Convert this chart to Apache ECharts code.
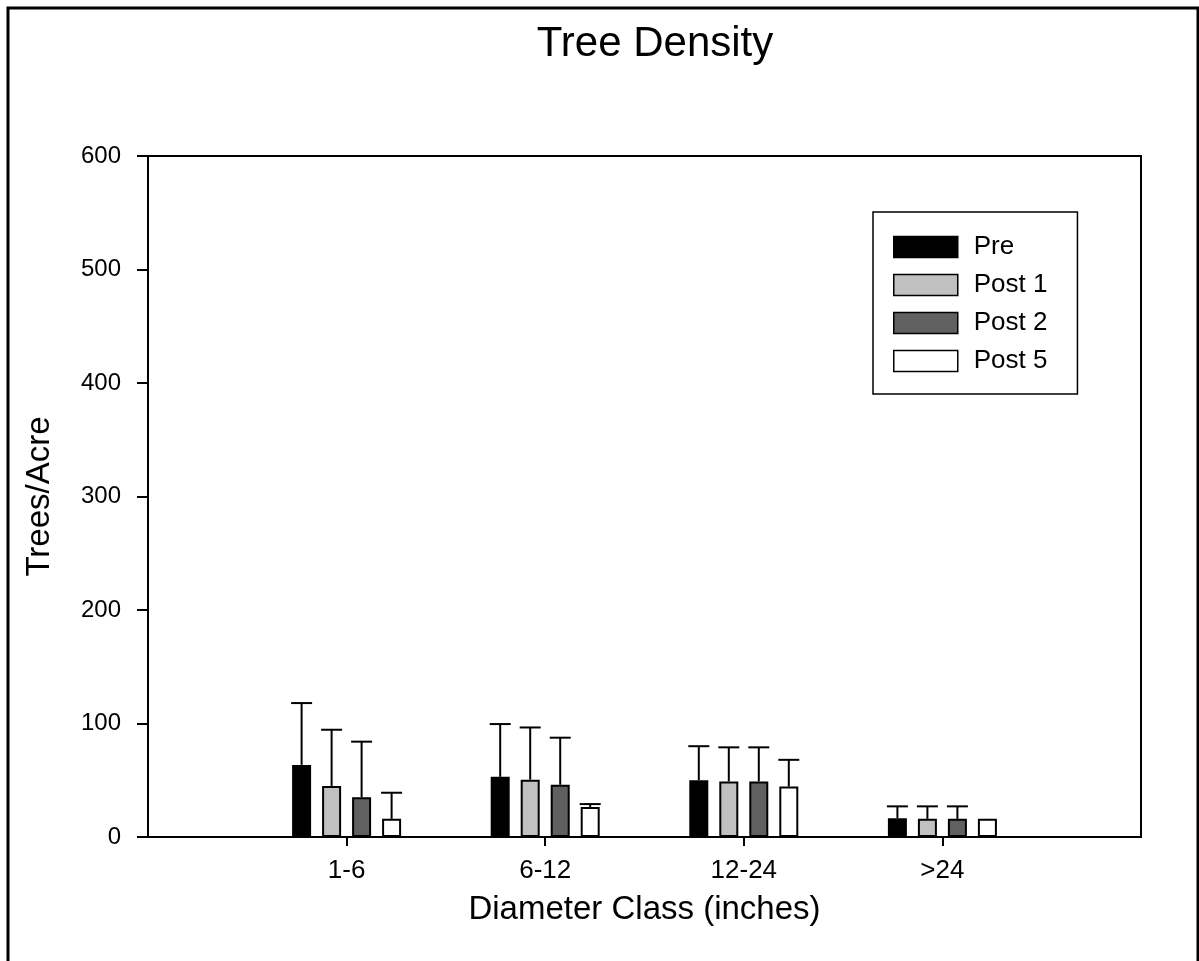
<!DOCTYPE html>
<html>
<head>
<meta charset="utf-8">
<script src="https://cdn.jsdelivr.net/npm/echarts@6/dist/echarts.min.js"></script>
<style>
html,body{margin:0;padding:0;background:#fff;}
#chart{width:1199px;height:961px;}
</style>
</head>
<body>
<div id="chart"></div>
<script>
// diameter classes
var classes = ['1-6', '6-12', '12-24', '>24'];
var seriesNames = ['Pre', 'Post 1', 'Post 2', 'Post 5'];
var seriesColors = ['#000000', '#c0c0c0', '#606060', '#ffffff'];

// mean trees/acre per class
var pre   = [63.5, 53, 50, 16.5];
var post1 = [45, 50.5, 49, 16];
var post2 = [35, 46, 49, 16];
var post5 = [16, 26.5, 44.5, 16];

// upper error (sd)
var preErr   = [54.5, 46.5, 30, 10.5];
var post1Err = [49.5, 46, 30, 11];
var post2Err = [49, 41.5, 30, 11];
var post5Err = [23, 2.5, 23.5, 0];

var yTicks = [0, 100, 200, 300, 400, 500, 600];

var means = [pre, post1, post2, post5];
var errs = [preErr, post1Err, post2Err, post5Err];

var barW = 19, barGapPx = 11;
var fontName = 'Liberation Sans, Arial, sans-serif';

// empty slot at both ends so the classes sit at 1..4 of 0..5
var cats = [''].concat(classes).concat(['']);

function pad(arr){
	return [null].concat(arr).concat([null]);
}

var series = [];
for (var i = 0; i < means.length; i++) {
	series.push({
		name: seriesNames[i],
		type: 'bar',
		barWidth: barW,
		barGap: (barGapPx / barW * 100) + '%',
		itemStyle: {color: seriesColors[i], borderColor: '#000', borderWidth: 2},
		data: pad(means[i]),
		z: 2
	});
}

// error bars, upward only
for (var i = 0; i < means.length; i++) {
	(function(si){
		var d = [];
		for (var k = 0; k < classes.length; k++) {
			d.push([k + 1, means[si][k], means[si][k] + errs[si][k]]);
		}
		series.push({
			type: 'custom',
			name: seriesNames[si],
			data: d,
			z: 1,
			silent: true,
			renderItem: function(params, api){
				var lo = api.value(1), hi = api.value(2);
				if (hi - lo <= 0) return null;
				var off = (si - 1.5) * (barW + barGapPx);
				var p0 = api.coord([api.value(0), lo]);
				var p1 = api.coord([api.value(0), hi]);
				var x = p0[0] + off;
				var st = {stroke: '#000', lineWidth: 2};
				return {
					type: 'group',
					children: [
						{type: 'line', shape: {x1: x, y1: p0[1], x2: x, y2: p1[1]}, style: st},
						{type: 'line', shape: {x1: x - 10.5, y1: p1[1], x2: x + 10.5, y2: p1[1]}, style: st}
					]
				};
			}
		});
	})(i);
}

var myChart = echarts.init(document.getElementById('chart'));
var option = {
	backgroundColor: '#fff',
	animation: false,
	title: {
		text: 'Tree Density',
		left: 650,
		textAlign: 'center',
		top: 18,
		textStyle: {fontFamily: fontName, fontSize: 42, fontWeight: 'normal', color: '#000'}
	},
	legend: {
		data: seriesNames,
		orient: 'vertical',
		left: 873,
		top: 212,
		padding: [22, 30, 20, 20],
		borderColor: '#000',
		borderWidth: 1.5,
		itemWidth: 64,
		itemHeight: 21,
		itemGap: 12,
		icon: 'rect',
		itemStyle: {borderColor: '#000', borderWidth: 1.5},
		textStyle: {fontFamily: fontName, fontSize: 26, color: '#000', lineHeight: 24, padding: [0, 0, 0, 11]},
		selectedMode: false
	},
	grid: {
		left: 148, right: 58, top: 156, bottom: 124,
		show: true, borderColor: '#000', borderWidth: 2,
		containLabel: false
	},
	xAxis: {
		type: 'category',
		data: cats,
		boundaryGap: false,
		name: 'Diameter Class (inches)',
		nameLocation: 'middle',
		nameGap: 56,
		nameTextStyle: {fontFamily: fontName, fontSize: 33, color: '#000'},
		axisLine: {lineStyle: {color: '#000', width: 2}},
		axisTick: {
			length: 9,
			lineStyle: {color: '#000', width: 2},
			interval: function(idx){ return idx > 0 && idx < cats.length - 1; }
		},
		axisLabel: {fontFamily: fontName, fontSize: 26, color: '#000', margin: 21, interval: 0},
		splitLine: {show: false}
	},
	yAxis: {
		type: 'value',
		min: yTicks[0],
		max: yTicks[yTicks.length - 1],
		interval: yTicks[1] - yTicks[0],
		name: 'Trees/Acre',
		nameLocation: 'middle',
		nameGap: 92,
		nameTextStyle: {fontFamily: fontName, fontSize: 33, color: '#000'},
		axisLine: {show: true, lineStyle: {color: '#000', width: 2}},
		axisTick: {show: true, length: 11, lineStyle: {color: '#000', width: 2}},
		axisLabel: {fontFamily: fontName, fontSize: 24, color: '#000', margin: 27},
		splitLine: {show: false}
	},
	graphic: [{
		type: 'rect',
		shape: {x: 8, y: 8, width: 1190, height: 1000},
		style: {fill: null, stroke: '#000', lineWidth: 3},
		silent: true
	}],
	series: series
};
myChart.setOption(option);
</script>
</body>
</html>
